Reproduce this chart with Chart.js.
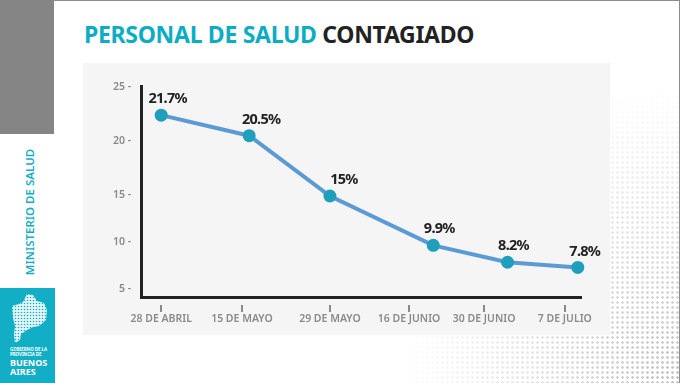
<!DOCTYPE html>
<html>
<head>
<meta charset="utf-8">
<script src="https://cdn.jsdelivr.net/npm/chart.js@4/dist/chart.umd.js"></script>
<style>
  html, body { margin: 0; padding: 0; background: #fff; }
  #slide { position: relative; width: 680px; height: 383px; overflow: hidden; background: #fff; font-family: "Noto Sans", sans-serif; }
  #slide div { position: absolute; }
  #dots {
    left: 380px; top: 60px; width: 300px; height: 323px;
    background-image: radial-gradient(circle, #c2c2c2 1.2px, transparent 1.5px);
    background-size: 5px 5px;
    -webkit-mask-image: radial-gradient(ellipse 280px 300px at 100% 100%, #000 0%, rgba(0,0,0,.5) 45%, transparent 100%);
    mask-image: radial-gradient(ellipse 280px 300px at 100% 100%, #000 0%, rgba(0,0,0,.5) 45%, transparent 100%);
  }
  #frame { left: 0; top: 0; width: 679px; height: 382px; border: 1px solid #8c8c8c; border-left: 0; box-sizing: content-box; }
  #grey { left: 0; top: 0; width: 54px; height: 134px; background: #858585; }
  #teal { left: 0; top: 288px; width: 55px; height: 95px; background: #12aec5; }
  #panel { left: 83px; top: 63px; width: 527px; height: 272px; background: #f5f5f5; }
  #title { left: 84px; top: 19px; font-size: 23px; line-height: 30px; font-weight: 700; white-space: nowrap; color: #222; letter-spacing: -0.3px; }
  #title span { color: #0cadc4; }
  #side { left: 29px; top: 212px; color: #12aec5; font-size: 11.5px; font-weight: 600; white-space: nowrap; transform: translate(-50%, -50%) rotate(-90deg); }
  #gov { left: 10px; top: 347px; color: #fff; font-size: 4.4px; font-weight: 700; line-height: 5px; white-space: nowrap; }
  #ba { left: 10px; top: 358px; color: #fff; font-size: 9px; font-weight: 700; line-height: 9px; white-space: nowrap; }
  #logo { position: absolute; left: 11px; top: 293px; }
  canvas { position: absolute; left: 0; top: 0; }
</style>
</head>
<body>
<div id="slide">
  <div id="dots"></div>
  <div id="frame"></div>
  <div id="grey"></div>
  <div id="teal"></div>
  <svg id="logo" width="38" height="52" viewBox="0 0 38 52">
    <defs>
      <pattern id="spk" width="3" height="3" patternUnits="userSpaceOnUse">
        <rect width="3" height="3" fill="#e6f7fa"/>
        <circle cx="1.5" cy="1.5" r="0.8" fill="#12aec5"/>
      </pattern>
    </defs>
    <path d="M1 13 L8 11 L12 9 L16 1 L22 2 L26 8 L33 10 L36 17 L35 27 L28 33 L22 34 L16 37 L10 41 L9 47 L4 50 L3 41 L4 33 L2 25 Z" fill="url(#spk)"/>
  </svg>
  <div id="panel"></div>
  <div id="title"><span>PERSONAL DE SALUD</span> CONTAGIADO</div>
  <div id="side">MINISTERIO DE SALUD</div>
  <div id="gov">GOBIERNO DE LA<br>PROVINCIA DE</div>
  <div id="ba">BUENOS<br>AIRES</div>
  <canvas id="chart" width="680" height="383"></canvas>
</div>
<script>
const categories = ['28 DE ABRIL', '15 DE MAYO', '29 DE MAYO', '16 DE JUNIO', '30 DE JUNIO', '7 DE JULIO'];
const tickSlots = [0, 1, 2.09, 3.07, 4, 5];
const pointSlots = [0, 1.09, 2.09, 3.37, 4.29, 5.16];
const yTicks = [5, 10, 15, 20, 25];
const plotted = [22.4, 20.5, 14.9, 9.65, 7.85, 7.3];
const pointLabels = ['21.7%', '20.5%', '15%', '9.9%', '8.2%', '7.8%'];

// the y axis of the slide is not even: the 5-15 half is tighter than 15-25
class BentScale extends Chart.LinearScale {
    getPixelForValue(value) {
        const bend = 0.483;
        const t = value <= 15
            ? (value - this.min) / (15 - this.min) * bend
            : bend + (value - 15) / (this.max - 15) * (1 - bend);
        return this.getPixelForDecimal(t);
    }
}
BentScale.id = 'bent';
BentScale.defaults = Chart.LinearScale.defaults;
Chart.register(BentScale);

const valueLabels = {
    id: 'valueLabels',
    afterDatasetsDraw(chart) {
        const dx = [6.5, 12, 14, 6, 6, 7];
        const ctx = chart.ctx;
        ctx.save();
        ctx.font = '700 14.5px "Noto Sans"';
        ctx.letterSpacing = '-0.7px';
        ctx.fillStyle = '#222';
        ctx.textAlign = 'center';
        ctx.textBaseline = 'middle';
        chart.getDatasetMeta(0).data.forEach((pt, i) => {
            ctx.fillText(pointLabels[i], pt.x + dx[i], pt.y - 16);
        });
        ctx.restore();
    }
};

const tickMarks = {
    id: 'tickMarks',
    afterDraw(chart) {
        const x = chart.scales.x;
        const ctx = chart.ctx;
        ctx.save();
        ctx.fillStyle = '#8a8a8a';
        x.ticks.forEach((t, i) => {
            ctx.fillRect(Math.round(x.getPixelForTick(i)) - 1, x.top + 8, 2, 7);
        });
        ctx.restore();
    }
};

new Chart(document.getElementById('chart').getContext('2d'), {
    type: 'line',
    plugins: [valueLabels, tickMarks],
    data: {
        datasets: [{
            data: pointSlots.map((x, i) => ({ x: x, y: plotted[i] })),
            borderColor: '#5b9bd5',
            borderWidth: 4,
            backgroundColor: '#1f9fbb',
            pointBackgroundColor: '#1f9fbb',
            pointBorderWidth: 0,
            pointRadius: 6.5,
            tension: 0,
            clip: false
        }]
    },
    options: {
        responsive: false,
        animation: false,
        events: [],
        layout: { padding: { left: 0, right: 99, top: 86, bottom: 0 } },
        plugins: { legend: { display: false }, tooltip: { enabled: false } },
        scales: {
            x: {
                type: 'linear',
                min: -0.25,
                max: 5.2,
                afterFit(scale) { scale.height = 86; },
                afterBuildTicks(scale) { scale.ticks = tickSlots.map(v => ({ value: v })); },
                grid: { display: false, drawTicks: false },
                border: { color: '#222', width: 3 },
                ticks: {
                    autoSkip: false,
                    maxRotation: 0,
                    padding: 16,
                    color: '#8a8a8a',
                    font: { family: 'Noto Sans', weight: '600', size: 10.5 },
                    callback: (v, i) => categories[i]
                }
            },
            y: {
                type: 'bent',
                min: 4.15,
                max: 25.1,
                afterFit(scale) { scale.width = 141; },
                afterBuildTicks(scale) { scale.ticks = yTicks.map(v => ({ value: v })); },
                grid: { display: false, drawTicks: false },
                border: { color: '#222', width: 3 },
                ticks: {
                    padding: 10,
                    color: '#8a8a8a',
                    font: { family: 'Noto Sans', weight: '600', size: 10.5 },
                    callback: v => v + ' -'
                }
            }
        }
    }
});
</script>
</body>
</html>
